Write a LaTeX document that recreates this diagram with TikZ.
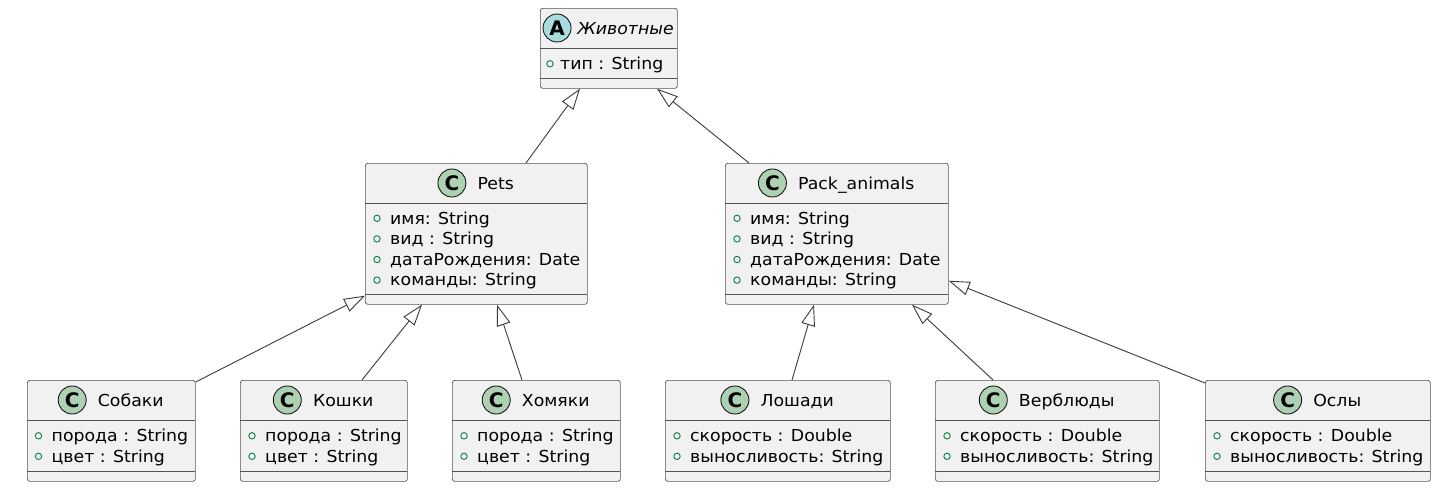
\documentclass[tikz,border=0pt]{standalone}
\usepackage{fontspec}
\setmainfont{DejaVu Sans}[FakeStretch=1.05]
\newfontfamily\iconfont{DejaVu Sans}
\usetikzlibrary{arrows.meta,calc}
\definecolor{cbox}{HTML}{F1F1F1}
\definecolor{cborder}{HTML}{181818}
\definecolor{cframe}{HTML}{555555}
\definecolor{ciconC}{HTML}{ADD1B2}
\definecolor{ciconA}{HTML}{A9DCDF}
\definecolor{cmark}{HTML}{038048}
\tikzset{
  boxst/.style={draw=cframe, fill=cbox, rounded corners=2.5pt, line width=0.7pt, inner sep=0pt},
  sepst/.style={draw=cframe, line width=0.7pt},
  hdrst/.style={inner sep=0pt, font=\fontsize{16.5}{19}\selectfont},
  cicon/.style={circle, draw=cborder, fill=ciconC, minimum size=28pt, inner sep=0pt, line width=0.9pt, font=\iconfont\fontsize{20}{20}\selectfont\bfseries},
  aicon/.style={cicon, fill=ciconA},
  markst/.style={circle, draw=cmark, line width=0.9pt, minimum size=6.4pt, inner sep=0pt},
  attrst/.style={inner sep=0pt, font=\fontsize{16.5}{19}\selectfont},
  ext/.style={draw=cborder!85!white, line width=0.9pt, -{Triangle[open, length=21pt, width=14pt]}}
}
% #1 name, #2 left, #3 top, #4 right, #5 bottom, #6 icon style, #7 letter, #8 header text, #9 gap
\newcommand\umlclass[9]{%
  \node[boxst, anchor=north west, minimum width={(#4-#2)*1pt}, minimum height={(#5-#3)*1pt}] (#1) at (#2,#3) {};
  \draw[sepst] (#2,#3+40) -- (#4,#3+40);
  \draw[sepst] (#2,#5-10) -- (#4,#5-10);
  \node[hdrst, anchor=base] (#1-h) at ({(#2+#4)/2+(28+#9)/2}, #3+26.3) {#8};
  \node[#6] (#1-i) at ($(#1-h.base west)+(-#9-14,-6.3)$) {#7};
}
% #1 name, #2 marker x, #3 text x, #4 baseline, #5 text
\newcommand\umlattr[5]{%
  \node[markst] (#1-m) at (#2,#4-5.7) {};
  \node[attrst, anchor=base west] (#1) at (#3,#4) {#5};
}
\begin{document}
\begin{tikzpicture}[x=1pt,y=-1pt]
\fill[white] (0,0) rectangle (1442,490);
\useasboundingbox (0,0) rectangle (1442,490);

% abstract class
\umlclass{anim}{540}{8}{677}{88}{aicon}{A}{\itshape Животные}{6}
\umlattr{anim1}{550}{560}{69.5}{тип : String}

% Pets
\umlclass{pets}{365}{163}{587}{304}{cicon}{C}{Pets}{11.5}
\umlattr{pets1}{377}{390}{224}{имя: String}
\umlattr{pets2}{377}{390}{244.6}{вид : String}
\umlattr{pets3}{377}{390}{265.2}{датаРождения: Date}
\umlattr{pets4}{377}{390}{285.8}{команды: String}

% Pack_animals
\umlclass{pack}{725}{163}{948}{304}{cicon}{C}{Pack\_animals}{11.5}
\umlattr{pack1}{737}{750}{224}{имя: String}
\umlattr{pack2}{737}{750}{244.6}{вид : String}
\umlattr{pack3}{737}{750}{265.2}{датаРождения: Date}
\umlattr{pack4}{737}{750}{285.8}{команды: String}

% bottom row
\umlclass{sob}{27}{380}{195}{481}{cicon}{C}{Собаки}{11.5}
\umlattr{sob1}{38.5}{51.5}{441.5}{порода : String}
\umlattr{sob2}{38.5}{51.5}{462}{цвет : String}

\umlclass{kosh}{240}{380}{407}{481}{cicon}{C}{Кошки}{11.5}
\umlattr{kosh1}{252}{265}{441.5}{порода : String}
\umlattr{kosh2}{252}{265}{462}{цвет : String}

\umlclass{hom}{452}{380}{620}{481}{cicon}{C}{Хомяки}{11.5}
\umlattr{hom1}{464}{477}{441.5}{порода : String}
\umlattr{hom2}{464}{477}{462}{цвет : String}

\umlclass{losh}{665}{380}{890}{481}{cicon}{C}{Лошади}{11.5}
\umlattr{losh1}{677}{690}{441.5}{скорость : Double}
\umlattr{losh2}{677}{690}{462}{выносливость: String}

\umlclass{verb}{935}{380}{1159}{481}{cicon}{C}{Верблюды}{11.5}
\umlattr{verb1}{947}{960}{441.5}{скорость : Double}
\umlattr{verb2}{947}{960}{462}{выносливость: String}

\umlclass{osl}{1205}{380}{1430}{481}{cicon}{C}{Ослы}{11.5}
\umlattr{osl1}{1217}{1230}{441.5}{скорость : Double}
\umlattr{osl2}{1217}{1230}{462}{выносливость: String}

% generalisations
\draw[ext] ($(pets.north west)+(161,0)$) -- ($(anim.south west)+(40,0)$);
\draw[ext] ($(pack.north west)+(24,0)$) -- ($(anim.south west)+(117,0)$);
\draw[ext] ($(sob.north east)+(0,2)$) -- ($(pets.south west)+(0,-9)$);
\draw[ext] ($(kosh.north west)+(122,0)$) -- ($(pets.south west)+(57,0)$);
\draw[ext] ($(hom.north west)+(70,0)$) -- ($(pets.south west)+(132,0)$);
\draw[ext] ($(losh.north west)+(127,0)$) -- ($(pack.south west)+(89,0)$);
\draw[ext] ($(verb.north west)+(58,0)$) -- ($(pack.south west)+(187,0)$);
\draw[ext] ($(osl.north west)+(0,3)$) -- ($(pack.south east)+(0,-24)$);
\end{tikzpicture}
\end{document}
